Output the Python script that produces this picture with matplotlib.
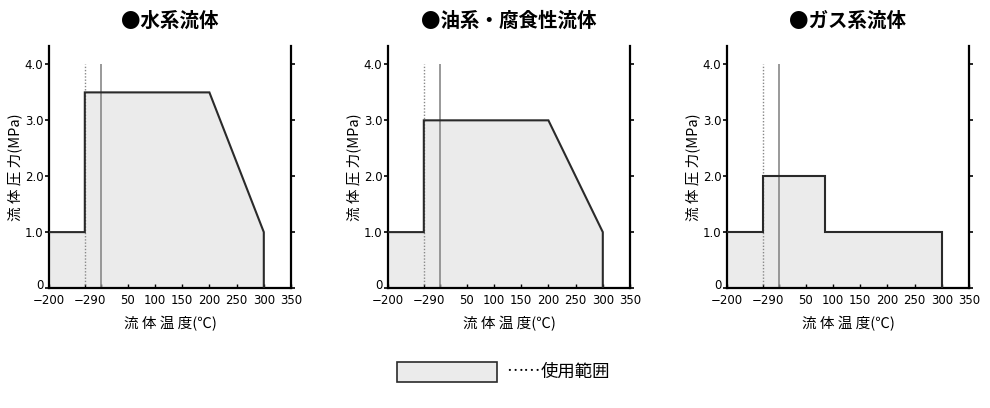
import numpy as np
import matplotlib
matplotlib.use("Agg")
import matplotlib.pyplot as plt
from matplotlib.patches import Rectangle
from matplotlib import font_manager
from matplotlib.transforms import ScaledTranslation

plt.rcParams['font.family'] = ['Noto Sans CJK JP', 'DejaVu Sans']

titles = ["●水系流体", "●油系・腐食性流体", "●ガス系流体"]
temps = [
    [-200, -29, -29, 200, 300],
    [-200, -29, -29, 200, 300],
    [-200, -29, -29, 85, 85, 300],
]
pressures = [
    [1.0, 1.0, 3.5, 3.5, 1.0],
    [1.0, 1.0, 3.0, 3.0, 1.0],
    [1.0, 1.0, 2.0, 2.0, 1.0, 1.0],
]
xticks = [-200, -29, 0, 50, 100, 150, 200, 250, 300, 350]
xticklabels = ["−200", "−29", "0", "50", "100", "150", "200", "250", "300", "350"]
yticks = [0, 1.0, 2.0, 3.0, 4.0]
yticklabels = ["0", "1.0", "2.0", "3.0", "4.0"]
xlabel = "流 体 温 度(℃)"
ylabel = "流 体 圧 力(MPa)"
legend_dots = "……"
legend_text = "使用範囲"

K = 0.385
BREAK = -29


def fwd(x):
    x = np.asarray(x, dtype=float)
    return np.where(x < BREAK, BREAK + (x - BREAK) * K, x)


def inv(y):
    y = np.asarray(y, dtype=float)
    return np.where(y < BREAK, BREAK + (y - BREAK) / K, y)


names = {f.name for f in font_manager.fontManager.ttflist}
tick_family = ['Liberation Sans Narrow', 'DejaVu Sans'] if 'Liberation Sans Narrow' in names else ['DejaVu Sans']
tick_size = 9.8 if 'Liberation Sans Narrow' in names else 8.5

fig = plt.figure(figsize=(9.9, 4.08), dpi=100)
W, H = 990, 408
lefts = [49, 388, 727]
ax_w, top, bot = 242, 46, 288

fill_c = '#ebebeb'
edge_c = '#2a2a2a'

for i in range(3):
    ax = fig.add_axes([lefts[i] / W, (H - bot) / H, ax_w / W, (bot - top) / H])
    ax.set_xscale('function', functions=(fwd, inv))
    ax.set_xlim(-200, 350)
    ax.set_ylim(0, 4.33)
    x = temps[i]
    y = pressures[i]
    ax.fill_between(x, y, 0, color=fill_c, lw=0, zorder=1)
    ax.plot(list(x) + [x[-1]], list(y) + [0], color=edge_c, lw=1.5, zorder=3,
            solid_joinstyle='miter')
    ax.vlines(-29, 0, 4.0, colors='#888888', linestyles=(0, (1, 1.3)), lw=1.0, zorder=2)
    ax.vlines(0, 0, 4.0, colors='#888888', lw=1.2, zorder=2)
    for s in ['left', 'right', 'bottom']:
        ax.spines[s].set_linewidth(1.6)
        ax.spines[s].set_color('black')
    ax.spines['top'].set_visible(False)
    ax.set_xticks(xticks)
    ax.set_xticklabels(xticklabels)
    ax.set_yticks(yticks)
    ax.set_yticklabels(yticklabels)
    ax.minorticks_off()
    ax.tick_params(axis='x', direction='in', length=3, width=1, pad=4)
    ax.tick_params(axis='y', direction='out', length=3, width=1.2, pad=1,
                   right=True, labelright=False)
    for lab in ax.get_xticklabels() + ax.get_yticklabels():
        lab.set_family(tick_family)
        lab.set_fontsize(tick_size)
    t29 = ax.xaxis.get_major_ticks()[1].label1
    t29.set_transform(t29.get_transform() + ScaledTranslation(1.5 / 100, 0, fig.dpi_scale_trans))
    y0 = ax.yaxis.get_major_ticks()[0].label1
    y0.set_transform(y0.get_transform() + ScaledTranslation(0, 4 / 100, fig.dpi_scale_trans))
    ax.set_xlabel(xlabel, fontsize=10.5, labelpad=7)
    ax.set_ylabel(ylabel, fontsize=10.5, labelpad=2)
    ax.set_title(titles[i], fontsize=14, fontweight='bold', pad=14)

# legend
fig.patches.append(Rectangle((397 / W, (H - 382) / H), 100 / W, 20 / H,
                             transform=fig.transFigure, facecolor=fill_c,
                             edgecolor=edge_c, lw=1.2))
fig.text(506 / W, (H - 372) / H, legend_dots, fontsize=12.5, va='center', ha='left')
fig.text(541 / W, (H - 372) / H, legend_text, fontsize=12.5, va='center', ha='left')

fig.savefig('out.png', dpi=100)
